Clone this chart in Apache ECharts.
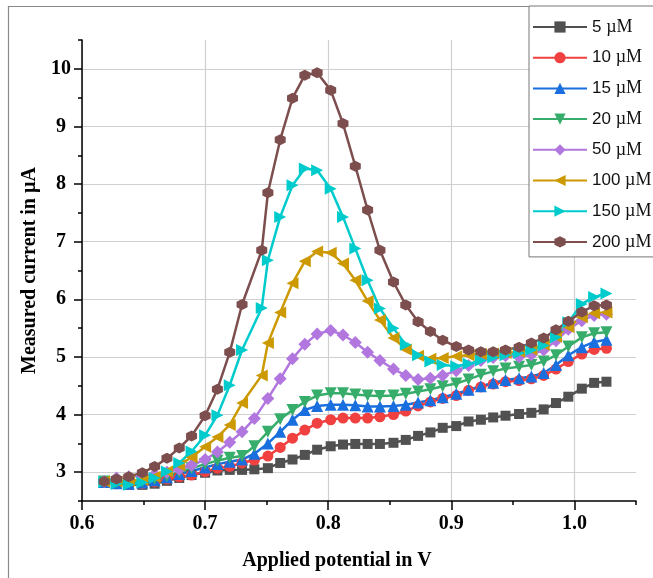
<!DOCTYPE html>
<html>
<head>
<meta charset="utf-8">
<script src="https://cdn.jsdelivr.net/npm/echarts@6/dist/echarts.min.js"></script>
<style>
html, body { margin: 0; padding: 0; background: #fff; }
#chart { width: 653px; height: 578px; }
</style>
</head>
<body>
<div id="chart"></div>
<script>
// potentials (V); the three strongest curves have their 13th point a bit later
var potential = [0.618, 0.628, 0.638, 0.649, 0.659, 0.669, 0.679, 0.689, 0.700, 0.710, 0.720, 0.730, 0.740, 0.751, 0.761, 0.771, 0.781, 0.791, 0.802, 0.812, 0.822, 0.832, 0.842, 0.853, 0.863, 0.873, 0.883, 0.893, 0.904, 0.914, 0.924, 0.934, 0.944, 0.955, 0.965, 0.975, 0.985, 0.995, 1.006, 1.016, 1.026];
var potentialHigh = [0.618, 0.628, 0.638, 0.649, 0.659, 0.669, 0.679, 0.689, 0.700, 0.710, 0.720, 0.730, 0.746, 0.751, 0.761, 0.771, 0.781, 0.791, 0.802, 0.812, 0.822, 0.832, 0.842, 0.853, 0.863, 0.873, 0.883, 0.893, 0.904, 0.914, 0.924, 0.934, 0.944, 0.955, 0.965, 0.975, 0.985, 0.995, 1.006, 1.016, 1.026];

// measured current (uA)
var c5 = [2.83, 2.80, 2.78, 2.78, 2.80, 2.85, 2.90, 2.95, 2.99, 3.03, 3.04, 3.04, 3.05, 3.07, 3.16, 3.22, 3.30, 3.39, 3.45, 3.48, 3.49, 3.49, 3.49, 3.51, 3.56, 3.63, 3.69, 3.77, 3.80, 3.88, 3.91, 3.95, 3.98, 4.01, 4.03, 4.09, 4.20, 4.31, 4.45, 4.55, 4.57];
var c10 = [2.83, 2.80, 2.79, 2.80, 2.83, 2.88, 2.92, 2.95, 3.01, 3.07, 3.10, 3.16, 3.21, 3.28, 3.43, 3.59, 3.73, 3.85, 3.91, 3.94, 3.94, 3.94, 3.96, 4.00, 4.06, 4.15, 4.22, 4.28, 4.33, 4.42, 4.48, 4.53, 4.57, 4.59, 4.62, 4.68, 4.79, 4.92, 5.05, 5.13, 5.15];
var c15 = [2.83, 2.81, 2.80, 2.82, 2.86, 2.91, 2.97, 3.02, 3.08, 3.14, 3.18, 3.22, 3.32, 3.50, 3.70, 3.91, 4.08, 4.15, 4.17, 4.17, 4.16, 4.14, 4.14, 4.15, 4.17, 4.21, 4.25, 4.30, 4.36, 4.43, 4.49, 4.55, 4.60, 4.63, 4.66, 4.72, 4.86, 5.03, 5.17, 5.26, 5.30];
var c20 = [2.84, 2.83, 2.82, 2.84, 2.88, 2.93, 3.00, 3.07, 3.14, 3.20, 3.25, 3.28, 3.45, 3.70, 3.92, 4.08, 4.22, 4.33, 4.37, 4.37, 4.35, 4.33, 4.32, 4.33, 4.36, 4.40, 4.44, 4.49, 4.54, 4.61, 4.69, 4.75, 4.80, 4.83, 4.86, 4.92, 5.03, 5.18, 5.34, 5.41, 5.43];
var c50 = [2.84, 2.90, 2.92, 2.94, 2.96, 3.00, 3.05, 3.12, 3.22, 3.35, 3.52, 3.70, 3.93, 4.28, 4.62, 4.97, 5.22, 5.40, 5.46, 5.38, 5.25, 5.08, 4.94, 4.79, 4.68, 4.61, 4.63, 4.68, 4.76, 4.85, 4.94, 4.99, 5.02, 5.00, 5.04, 5.12, 5.28, 5.48, 5.63, 5.72, 5.74];
var c100 = [2.84, 2.84, 2.85, 2.87, 2.92, 3.01, 3.12, 3.26, 3.44, 3.61, 3.82, 4.20, 4.68, 5.24, 5.77, 6.28, 6.66, 6.83, 6.81, 6.62, 6.33, 5.97, 5.64, 5.33, 5.13, 5.02, 4.97, 4.98, 5.01, 5.03, 5.05, 5.06, 5.07, 5.09, 5.13, 5.21, 5.35, 5.52, 5.69, 5.76, 5.77];
var c150 = [2.83, 2.80, 2.78, 2.82, 2.90, 3.01, 3.16, 3.36, 3.64, 3.99, 4.51, 5.12, 5.85, 6.68, 7.43, 7.98, 8.27, 8.24, 7.92, 7.43, 6.88, 6.33, 5.84, 5.50, 5.21, 5.03, 4.92, 4.86, 4.84, 4.88, 4.94, 4.99, 5.03, 5.07, 5.12, 5.20, 5.34, 5.60, 5.92, 6.04, 6.10];
var c200 = [2.84, 2.88, 2.92, 2.99, 3.10, 3.24, 3.42, 3.63, 3.98, 4.44, 5.08, 5.91, 6.85, 7.85, 8.77, 9.49, 9.89, 9.93, 9.63, 9.05, 8.31, 7.55, 6.85, 6.30, 5.90, 5.61, 5.44, 5.29, 5.18, 5.12, 5.09, 5.09, 5.12, 5.17, 5.24, 5.33, 5.47, 5.62, 5.78, 5.89, 5.90];

var names = ['5 µM', '10 µM', '15 µM', '20 µM', '50 µM', '100 µM', '150 µM', '200 µM'];
var xMajor = [0.6, 0.7, 0.8, 0.9, 1.0];
var yMajor = [3, 4, 5, 6, 7, 8, 9, 10];
</script>
<script>
var serif = 'Liberation Serif';
var hexagon = 'path://M0,-1L0.866,-0.5L0.866,0.5L0,1L-0.866,0.5L-0.866,-0.5Z';

// values, x, colour, symbol, size, rotate
var defs = [
	[c5, potential, '#515151', 'rect', 10, 0],
	[c10, potential, '#F14040', 'circle', 11, 0],
	[c15, potential, '#1A6FDF', 'triangle', 12, 0],
	[c20, potential, '#37AD6B', 'triangle', 12, 180],
	[c50, potential, '#B177DE', 'diamond', 13, 0],
	[c100, potentialHigh, '#CC9900', 'triangle', 12, 90],
	[c150, potentialHigh, '#00CBCC', 'triangle', 12, -90],
	[c200, potentialHigh, '#7D4E4E', hexagon, 11, 0]
];

var series = [];
for(var s = 0; s < defs.length; s++) {
	var d = defs[s];
	var pts = [];
	for(var i = 0; i < d[0].length; i++) {
		pts.push([d[1][i], d[0][i]]);
	}
	series.push({
		name: names[s],
		type: 'line',
		data: pts,
		symbol: d[3],
		symbolSize: d[4],
		symbolRotate: d[5],
		showAllSymbol: true,
		color: d[2],
		lineStyle: { width: 2.5, color: d[2] },
		itemStyle: { color: d[2] },
		emphasis: { disabled: true },
		animation: false
	});
}

function isStep(v, step) {
	var r = v / step;
	return Math.abs(r - Math.round(r)) < 1e-6;
}

var option = {
	animation: false,
	backgroundColor: '#fff',
	grid: { left: 82, right: 17, top: 40, bottom: 77 },
	legend: {
		orient: 'vertical',
		left: 529,
		top: 6,
		padding: [12, 6, 6, 3],
		itemWidth: 54,
		itemHeight: 14,
		itemGap: 12.7,
		backgroundColor: '#fff',
		borderColor: '#777',
		borderWidth: 1,
		borderRadius: 0,
		data: names,
		formatter: function(name) {
			var p = name.split(' ');
			return '{n|' + p[0] + ' }{u|µM}';
		},
		textStyle: {
			color: '#000',
			lineHeight: 18,
			rich: {
				n: { fontFamily: 'Liberation Sans', fontSize: 17, color: '#111' },
				u: { fontFamily: serif, fontSize: 18, color: '#111' }
			}
		}
	},
	xAxis: [{
		type: 'value',
		min: 0.6,
		max: 1.05,
		interval: 0.05,
		name: 'Applied potential in V',
		nameLocation: 'middle',
		nameGap: 50,
		nameTextStyle: {
			fontFamily: serif, fontWeight: 'bold', fontSize: 20, color: '#000',
			padding: [0, 44, 0, 0]
		},
		axisLine: { show: true, onZero: false, lineStyle: { color: '#000', width: 1.5 } },
		axisTick: { show: true, length: 4, lineStyle: { color: '#000', width: 1.5 } },
		axisLabel: {
			margin: 13,
			fontFamily: serif, fontWeight: 'bold', fontSize: 20, color: '#000',
			formatter: function(v) {
				return (isStep(v, 0.1) && v < 1.04) ? v.toFixed(1) : '';
			}
		},
		splitLine: { show: true, lineStyle: { color: ['#cfcfcf', 'rgba(0,0,0,0)'], width: 1.2 } }
	}, {
		type: 'value',
		min: 0.6,
		max: 1.05,
		position: 'bottom',
		axisLine: { show: false },
		axisTick: { show: true, length: 9, customValues: xMajor, lineStyle: { color: '#000', width: 1.5 } },
		axisLabel: { show: false },
		splitLine: { show: false }
	}],
	yAxis: [{
		type: 'value',
		min: 2.5,
		max: 10.5,
		interval: 0.5,
		name: 'Measured current in µA',
		nameLocation: 'middle',
		nameGap: 40,
		nameTextStyle: { fontFamily: serif, fontWeight: 'bold', fontSize: 20, color: '#000' },
		axisLine: { show: true, onZero: false, lineStyle: { color: '#000', width: 1.5 } },
		axisTick: { show: true, length: 4, lineStyle: { color: '#000', width: 1.5 } },
		axisLabel: {
			margin: 21,
			align: 'center',
			fontFamily: serif, fontWeight: 'bold', fontSize: 20, color: '#000',
			formatter: function(v) {
				return isStep(v, 1) ? String(Math.round(v)) : '';
			}
		},
		splitLine: { show: true, lineStyle: { color: ['rgba(0,0,0,0)', '#cfcfcf'], width: 1.2 } }
	}, {
		type: 'value',
		min: 2.5,
		max: 10.5,
		position: 'left',
		axisLine: { show: false },
		axisTick: { show: true, length: 8, customValues: yMajor, lineStyle: { color: '#000', width: 1.5 } },
		axisLabel: { show: false },
		splitLine: { show: false }
	}],
	graphic: [{
		type: 'rect',
		left: 6,
		top: 4,
		z: -10,
		silent: true,
		shape: { width: 720, height: 700 },
		style: { fill: 'none', stroke: '#8a8a8a', lineWidth: 1.2 }
	}],
	series: series
};

var chart = echarts.init(document.getElementById('chart'), null, { renderer: 'canvas' });
chart.setOption(option);
</script>
</body>
</html>
